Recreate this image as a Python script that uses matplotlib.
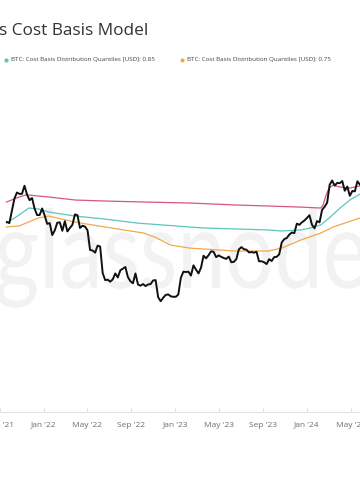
import matplotlib
matplotlib.use("Agg")
import matplotlib.pyplot as plt
import matplotlib.dates as mdates
import numpy as np
import pandas as pd
from matplotlib.textpath import TextPath
from matplotlib.patches import PathPatch
from matplotlib.font_manager import FontProperties
from matplotlib.transforms import Affine2D

# ---------------- data ----------------
title_text = "s Cost Basis Model"
legend_labels = ["BTC: Cost Basis Distribution Quantiles [USD]: 0.85",
                 "BTC: Cost Basis Distribution Quantiles [USD]: 0.75"]
tick_dates = ["2021-09-01", "2022-01-01", "2022-05-01", "2022-09-01", "2023-01-01",
              "2023-05-01", "2023-09-01", "2024-01-01", "2024-05-01"]
tick_labels = ["Sep '21", "Jan '22", "May '22", "Sep '22", "Jan '23",
               "May '23", "Sep '23", "Jan '24", "May '24"]

# weekly BTC price (k USD), Mondays from 2021-09-20
price_2021 = [42.8, 42.2, 49.1, 57.4, 62.0, 60.9, 61.0, 67.5, 60.4, 56.3, 57.8, 50.6, 46.7, 46.7, 50.7]
price_2022 = [46.4, 41.8, 42.2, 36.3, 38.5,
              42.4, 42.6, 38.3, 43.2,
              38.0, 39.7, 41.3, 47.1,
              46.6, 39.7, 40.8, 40.4,
              38.5, 30.1, 29.9, 29.1, 31.8,
              31.4, 22.5, 20.6, 20.7,
              20.2, 20.8, 22.4, 21.3,
              23.3, 23.8, 24.3, 21.4, 20.3,
              19.8, 22.4, 19.5, 19.2,
              19.6, 19.1, 19.5, 19.6, 20.5,
              20.6, 16.6, 15.8, 16.5,
              17.1, 17.2, 16.8, 16.7]
price_2023 = [16.7, 17.2, 21.2, 22.9, 22.8,
              22.9, 21.8, 24.8, 23.5,
              22.4, 24.1, 28.0, 27.1,
              28.2, 29.6, 29.4, 27.5,
              28.1, 27.6, 27.2, 26.9, 27.7,
              25.8, 25.9, 26.8, 30.3,
              31.2, 30.4, 30.2, 29.2, 29.3,
              29.1, 29.4, 26.1, 26.1,
              25.8, 25.2, 26.8, 26.2,
              27.5, 27.6, 28.5, 33.1, 34.5,
              35.0, 36.5, 37.5, 37.2,
              41.9, 41.3, 42.6, 43.6]
price_2024 = [45.0, 46.6, 41.3, 39.5, 43.3,
              42.6, 49.9, 51.8, 54.5,
              68.3, 72.1, 67.6, 70.0,
              69.7, 71.6, 63.4, 66.8, 59.5,
              63.2, 62.9, 71.4, 68.5]

# cost basis quantile 0.95 (k USD)
q95_dates = ["2021-09-19", "2021-10-10", "2021-10-24", "2021-11-12", "2021-11-20", "2021-12-17",
             "2022-01-14", "2022-03-29", "2022-06-19", "2022-10-06", "2023-02-11", "2023-06-16",
             "2023-09-17", "2023-12-15", "2024-02-08", "2024-02-15", "2024-02-22", "2024-02-29",
             "2024-03-06", "2024-03-14", "2024-04-02", "2024-04-29", "2024-05-27"]
q95_vals = [55.0, 57.1, 58.6, 60.1, 60.1, 59.3,
            58.6, 56.4, 55.7, 55.0, 54.3, 53.0,
            52.3, 51.6, 51.0, 53.0, 59.3, 64.0,
            66.4, 68.1, 66.4, 65.6, 67.3]

# cost basis quantile 0.85 (k USD)
q85_dates = ["2021-09-19", "2021-10-24", "2021-11-12", "2021-11-20", "2021-12-17", "2022-01-14",
             "2022-03-29", "2022-06-19", "2022-09-17", "2023-03-18", "2023-09-17", "2023-10-22",
             "2023-12-15", "2024-01-11", "2024-02-08", "2024-03-06", "2024-04-02", "2024-04-29",
             "2024-05-27"]
q85_vals = [42.2, 46.7, 49.7, 51.0, 50.4, 48.5,
            46.1, 44.4, 42.2, 39.7, 38.7, 38.2,
            38.7, 39.7, 41.2, 45.6, 51.0, 56.4,
            60.8]

# cost basis quantile 0.75 (k USD)
q75_dates = ["2021-09-19", "2021-10-24", "2021-11-12", "2021-12-17", "2022-01-14", "2022-03-29",
             "2022-06-19", "2022-10-06", "2022-11-10", "2022-12-18", "2023-02-11", "2023-06-16",
             "2023-09-17", "2023-10-22", "2023-12-15", "2024-02-08", "2024-03-14", "2024-05-27"]
q75_vals = [40.2, 40.7, 42.2, 45.0, 46.1, 42.7,
            40.2, 37.2, 35.0, 32.0, 30.8, 29.7,
            29.7, 30.8, 34.1, 37.2, 40.2, 45.0]

# ---------------- figure ----------------
W, H = 360, 504
fig = plt.figure(figsize=(W / 100, H / 100), dpi=100)
fig.patch.set_facecolor("white")

# watermark layer (pixel coordinates)
wm = fig.add_axes([0, 0, 1, 1], zorder=0)
wm.set_xlim(0, W)
wm.set_ylim(H, 0)
wm.axis("off")
fp = FontProperties(family="Lato", weight="normal")
tp = TextPath((0, 0), "glassnode", size=1, prop=fp)
xh = TextPath((0, 0), "x", size=1, prop=fp).get_extents().height
ext = tp.get_extents()
sx = 368 / ext.width
sy = 55 / xh
tr = Affine2D().translate(-ext.x0, 0).scale(sx, -sy).translate(-3, 288)
wm.add_patch(PathPatch(tr.transform_path(tp), facecolor="#f2f2f2", edgecolor="none"))

# main chart
ax = fig.add_axes([0, (H - 412) / H, 1, 412 / H], zorder=1)
ax.patch.set_alpha(0)
ax.set_yscale("log")
pxday = (306 - 38.3) / 730.0
x0 = mdates.date2num(pd.Timestamp("2022-01-01")) - 38.3 / pxday
ax.set_xlim(x0, x0 + W / pxday)
ytop = 69000 * np.exp(184 / 79.5)
ybot = 69000 * np.exp(-(412 - 184) / 79.5)
ax.set_ylim(ybot, ytop)

price = np.array(price_2021 + price_2022 + price_2023 + price_2024) * 1000
pdates = pd.date_range("2021-09-20", periods=len(price), freq="7D")

ax.plot(pd.to_datetime(q95_dates), np.array(q95_vals) * 1000, color="#d6587a", lw=0.9, zorder=2)
ax.plot(pd.to_datetime(q85_dates), np.array(q85_vals) * 1000, color="#5cc6bd", lw=0.9, zorder=2)
ax.plot(pd.to_datetime(q75_dates), np.array(q75_vals) * 1000, color="#f2a84a", lw=0.9, zorder=2)
ax.plot(pdates, price, color="#111111", lw=1.4, zorder=3)

for s in ["left", "right", "top"]:
    ax.spines[s].set_visible(False)
ax.spines["bottom"].set_color("#e4e4e4")
ax.spines["bottom"].set_linewidth(0.8)
ax.yaxis.set_visible(False)
ax.minorticks_off()
ax.set_xticks(pd.to_datetime(tick_dates))
ax.set_xticklabels(tick_labels, fontsize=6, color="#6e6e6e", family="Open Sans")
ax.tick_params(axis="x", direction="in", length=3, color="#e0e0e0", pad=7)

# title and legend
fig.text(-1 / W, 1 - 35 / H, title_text, fontsize=12.4, color="#333333",
         family="Open Sans", va="baseline", ha="left")
leg_colors = ["#5cc6bd", "#f2a84a"]
leg_x = [6, 182]
for lx, lab, col in zip(leg_x, legend_labels, leg_colors):
    wm.plot([lx], [60], marker="o", ms=3, color=col, mec="none")
    fig.text((lx + 5) / W, 1 - 60 / H, lab, fontsize=4.5, color="#444444",
             family="Open Sans", va="center", ha="left")

fig.savefig("out.png", dpi=100, facecolor="white")
